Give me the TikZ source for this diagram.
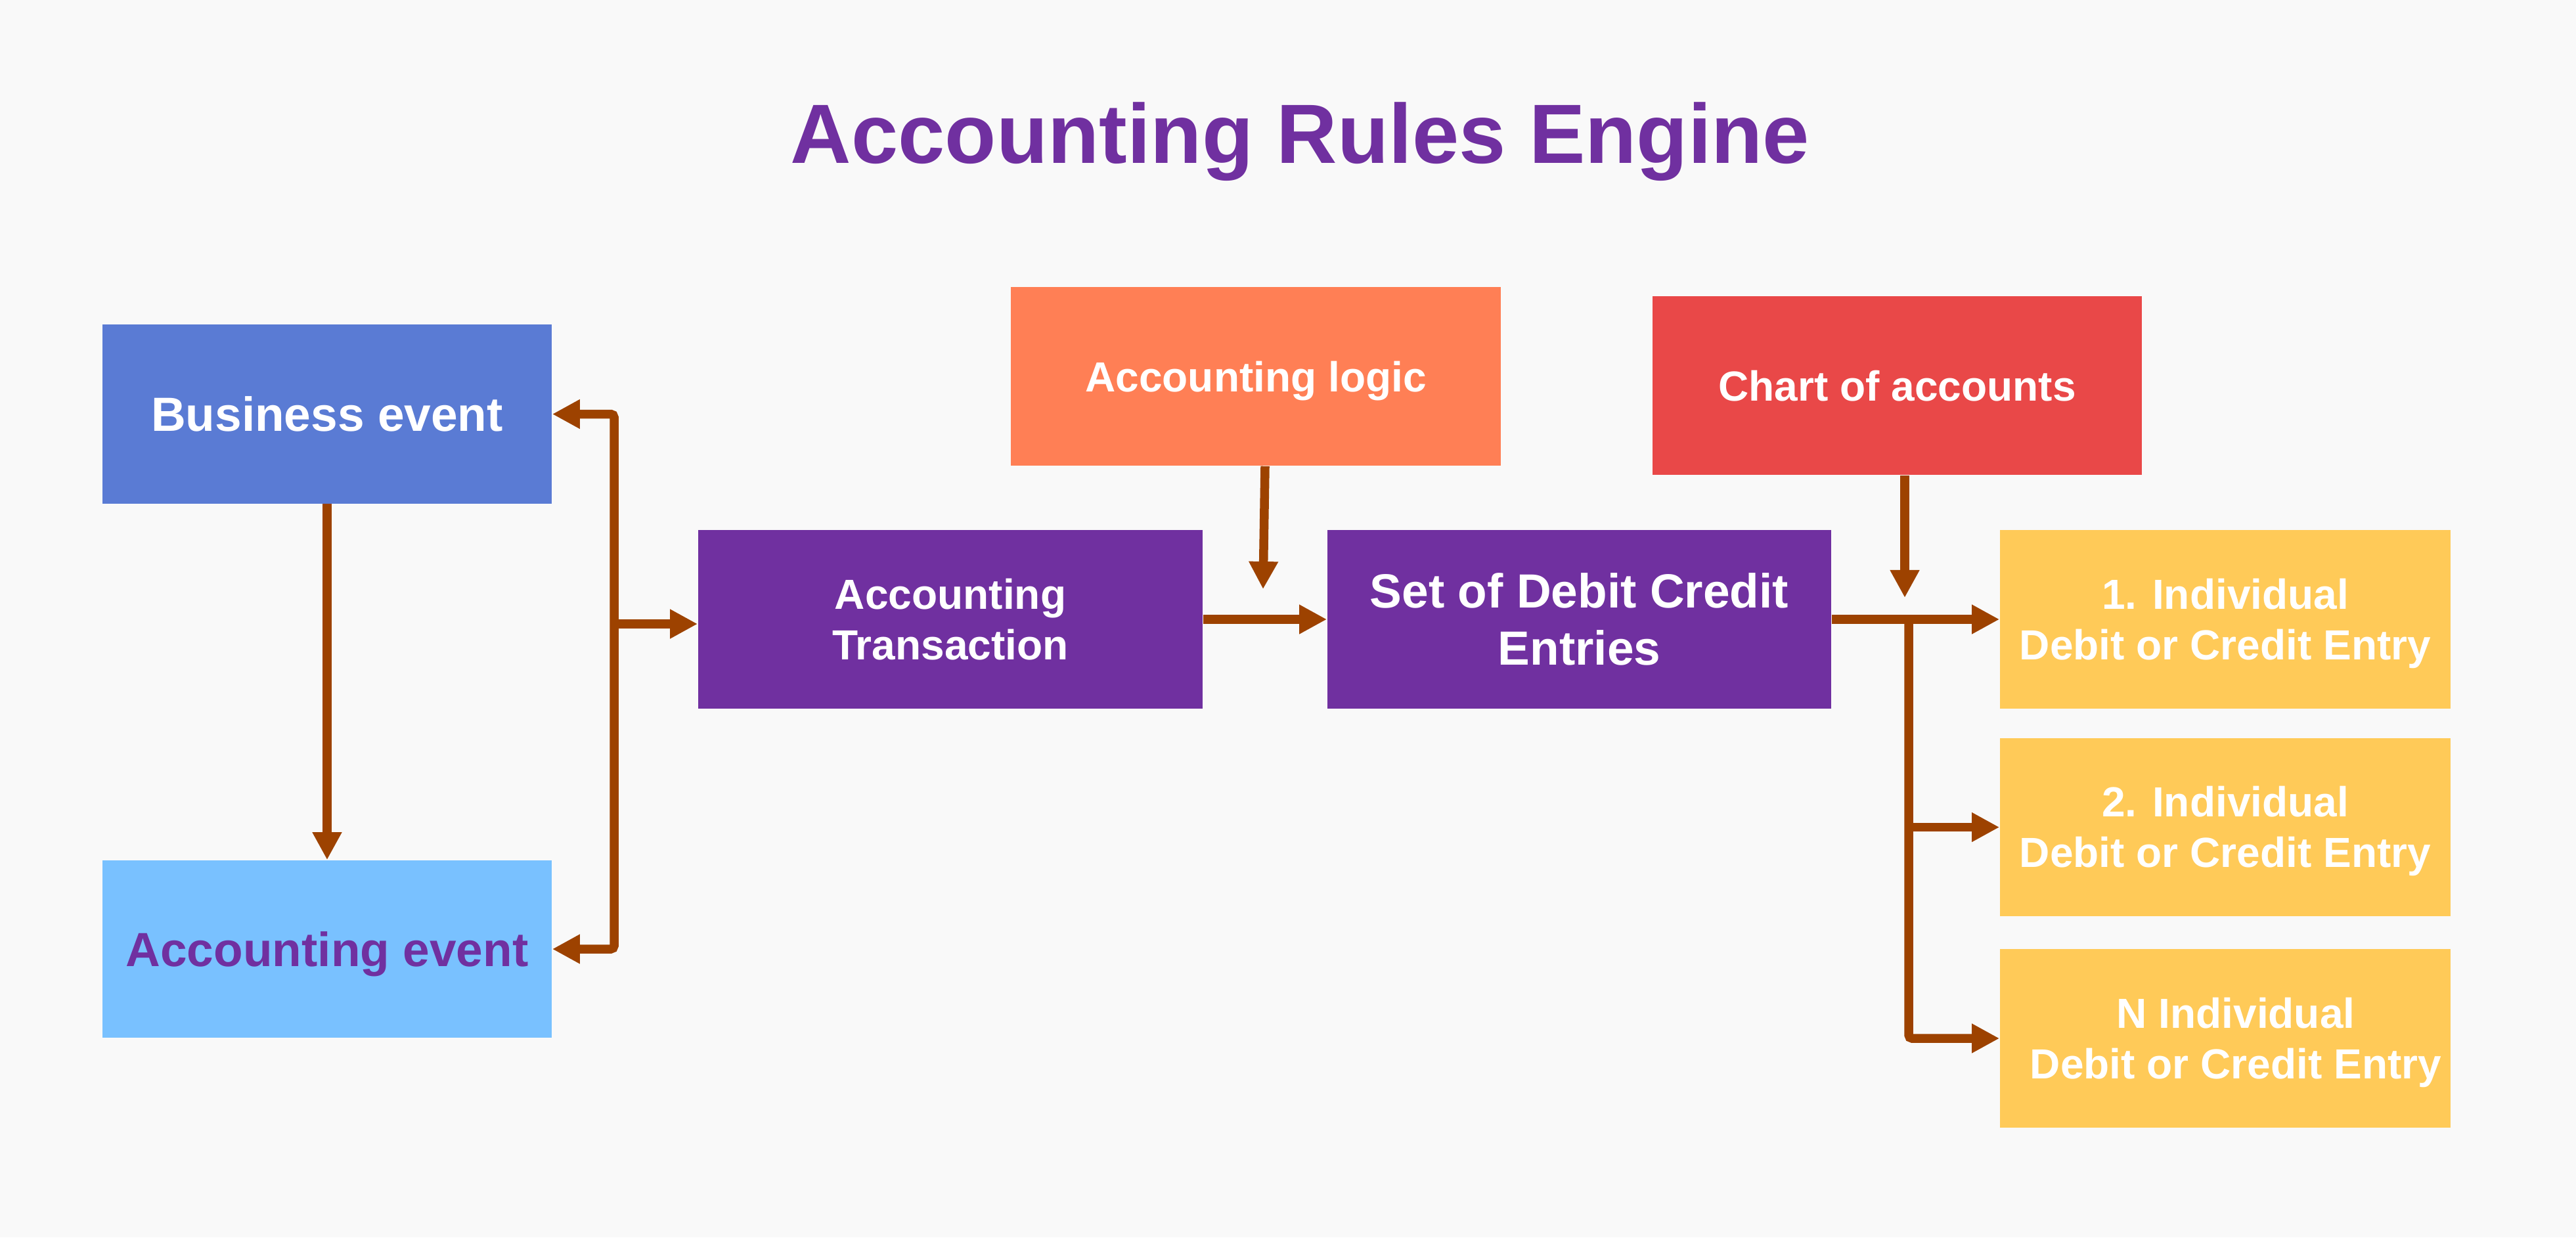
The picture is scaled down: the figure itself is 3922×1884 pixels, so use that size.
\documentclass[tikz,border=0pt]{standalone}
\usepackage{fontspec}
\setmainfont{Liberation Sans}
\usetikzlibrary{arrows.meta}
\definecolor{bgc}{HTML}{F9F9F9}
\definecolor{bizc}{HTML}{5A7BD4}
\definecolor{acevc}{HTML}{79C1FF}
\definecolor{purp}{HTML}{7030A0}
\definecolor{logicc}{HTML}{FF7F55}
\definecolor{chartc}{HTML}{E94848}
\definecolor{yelc}{HTML}{FFCA58}
\definecolor{arrowc}{HTML}{9D4200}
\begin{document}
\begin{tikzpicture}[x=0.01cm,y=-0.01cm,
  box/.style={rectangle, inner sep=0pt, minimum height=2.72cm, align=center, text=white,
    font=\fontsize{18.21pt}{21.9pt}\selectfont\bfseries},
  bigtxt/.style={font=\fontsize{20.77pt}{24.75pt}\selectfont\bfseries},
  tip/.style={-{Triangle[length=0.42cm,width=0.42cm]}},
  arr/.style={draw=arrowc, line width=0.135cm, tip}]
\fill[bgc] (0,0) rectangle (3922,1884);
\useasboundingbox (0,0) rectangle (3922,1884);

\node[anchor=base, text=purp, font=\fontsize{36.42pt}{40pt}\selectfont\bfseries] (title) at (1979.5,248) {Accounting Rules Engine};

\node[box, fill=bizc, minimum width=6.84cm, bigtxt] (biz) at (498,630.5) {Business event};
\node[box, fill=acevc, minimum width=6.84cm, minimum height=2.70cm, bigtxt, text=purp, text depth=0pt] (acev) at (498,1445) {Accounting event};
\node[box, fill=purp, minimum width=7.68cm] (trans) at (1447,943) {Accounting\\Transaction};
\node[box, fill=purp, minimum width=7.67cm, bigtxt] (set) at (2404.5,943) {Set of Debit Credit\\Entries};
\node[box, fill=logicc, minimum width=7.46cm, text depth=0pt] (logic) at (1912,573) {Accounting logic};
\node[box, fill=chartc, minimum width=7.45cm, text depth=0pt] (chart) at (2888.5,587) {Chart of accounts};
\node[box, fill=yelc, minimum width=6.86cm] (e1) at (3388,943) {1. Individual\\Debit or Credit Entr\smash{y}};
\node[box, fill=yelc, minimum width=6.86cm, minimum height=2.71cm] (e2) at (3388,1259.5) {2. Individual\\Debit or Credit Entr\smash{y}};
\node[box, fill=yelc, minimum width=6.86cm] (e3) at (3388,1581) {\hspace*{0.32cm}N Individual\\\hspace*{0.32cm}Debit or Credit Entr\smash{y}};

% connectors
\draw[arr] (biz) -- (acev);
\coordinate (bx) at (935,950);
\draw[draw=arrowc, line width=0.135cm, {Triangle[length=0.42cm,width=0.42cm]}-{Triangle[length=0.42cm,width=0.42cm]}, rounded corners=0.05cm]
  (biz.east) -- (biz.east -| bx) -- (acev.east -| bx) -- (acev.east);
\draw[arr] (bx) -- (bx -| trans.west);
\draw[arr] (trans) -- (set);
\coordinate (lgtip) at (1923,897);
\draw[arr] ([xshift=0.14cm]logic.south) -- (lgtip);
\coordinate (cttip) at (2900,910);
\draw[arr] (chart.south -| cttip) -- (cttip);
\draw[arr] (set) -- (e1);
\coordinate (br) at (2906,943);
\draw[arr, rounded corners=0.05cm] (br) |- (e3.west);
\draw[arr] (br |- e2.west) -- (e2.west);
\end{tikzpicture}
\end{document}
